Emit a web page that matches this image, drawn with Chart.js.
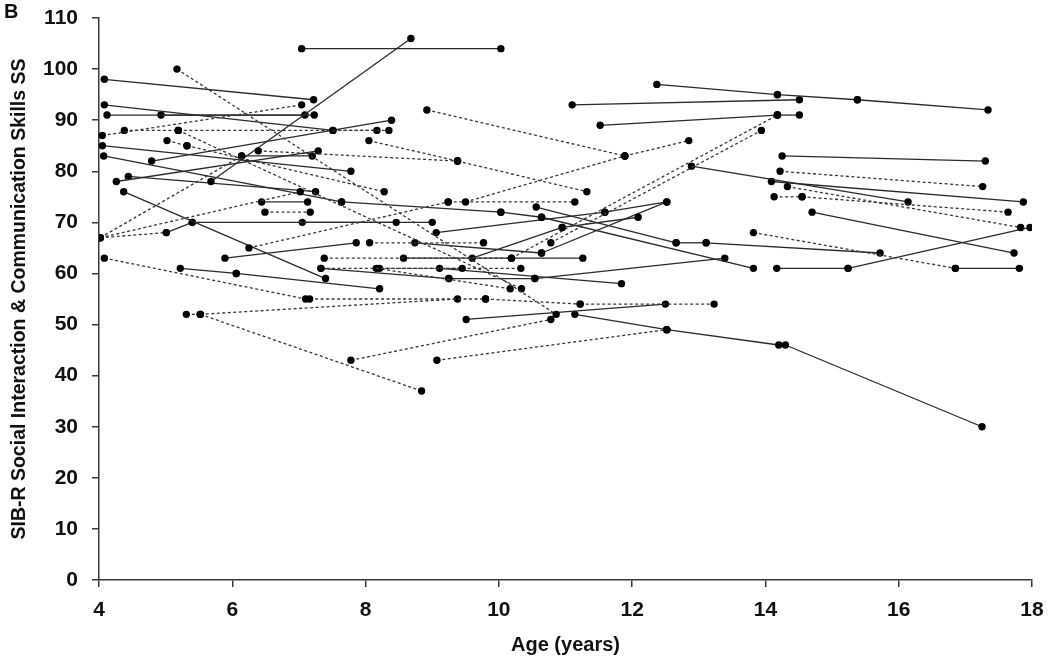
<!DOCTYPE html>
<html>
<head>
<meta charset="utf-8">
<script src="https://cdn.jsdelivr.net/npm/chart.js@4/dist/chart.umd.min.js"></script>
<style>
  html, body { margin: 0; padding: 0; background: #fff; }
  #wrap { position: relative; width: 1050px; height: 661px; }
  #panel { position: absolute; left: 4px; top: 0px; font: bold 20px "Liberation Sans", Arial, sans-serif; color: #111; }
</style>
</head>
<body>
<div id="wrap">
  <canvas id="c" width="1050" height="661"></canvas>
  <div id="panel">B</div>
</div>
<script>
// Axis ticks
const xTickValues = [4, 6, 8, 10, 12, 14, 16, 18];
const yTickValues = [0, 10, 20, 30, 40, 50, 60, 70, 80, 90, 100, 110];

// Each segment: [age start, SS start, age end, SS end]
const solidSegments = [
  [7.04, 104, 10.03, 104],
  [5.68, 78, 8.68, 106],
  [4.08, 98, 7.22, 94],
  [4.08, 93, 7.51, 88],
  [4.12, 91, 7.23, 91],
  [4.93, 91, 7.09, 91],
  [4.05, 85, 7.78, 80],
  [4.79, 82, 8.39, 90],
  [4.07, 83, 7.64, 74],
  [7.64, 74, 10.03, 72],
  [10.03, 72, 10.64, 71],
  [4.26, 78, 7.29, 84],
  [4.44, 79, 7.25, 76],
  [4.37, 76, 7.40, 59],
  [5.01, 68, 5.40, 70],
  [5.40, 70, 8.46, 70],
  [7.05, 70, 9.00, 70],
  [5.89, 63, 7.86, 66],
  [5.22, 61, 6.06, 60],
  [6.06, 60, 8.21, 57],
  [6.14, 83, 7.20, 83],
  [6.44, 74, 7.13, 74],
  [8.57, 63, 11.26, 63],
  [9.60, 63, 10.95, 69],
  [10.95, 69, 12.09, 71],
  [9.06, 68, 11.59, 72],
  [11.59, 72, 12.52, 74],
  [10.64, 64, 12.52, 74],
  [8.74, 66, 10.64, 64],
  [10.56, 73, 12.66, 66],
  [12.66, 66, 13.11, 66],
  [13.11, 66, 15.72, 64],
  [10.64, 71, 13.82, 61],
  [7.33, 61, 9.25, 59],
  [9.25, 59, 10.54, 59],
  [10.54, 59, 13.39, 63],
  [9.11, 61, 11.84, 58],
  [9.51, 51, 12.50, 54],
  [11.14, 52, 12.52, 49],
  [12.52, 49, 14.20, 46],
  [14.30, 46, 17.25, 30],
  [12.37, 97, 14.18, 95],
  [14.18, 95, 15.38, 94],
  [15.38, 94, 17.34, 92],
  [11.10, 93, 14.51, 94],
  [11.52, 89, 14.18, 91],
  [14.18, 91, 14.51, 91],
  [12.89, 81, 16.14, 74],
  [14.09, 78, 17.87, 74],
  [14.25, 83, 17.30, 82],
  [14.70, 72, 17.73, 64],
  [14.17, 61, 15.24, 61],
  [15.24, 61, 17.97, 69],
  [16.85, 61, 17.81, 61]
];

const dashedSegments = [
  [5.17, 100, 10.86, 52],
  [5.19, 88, 10.34, 57],
  [4.05, 87, 7.04, 93],
  [4.38, 88, 5.19, 88],
  [5.19, 88, 8.35, 88],
  [7.51, 88, 8.17, 88],
  [5.02, 86, 5.32, 85],
  [5.32, 85, 8.28, 76],
  [6.39, 84, 9.38, 82],
  [8.05, 86, 9.38, 82],
  [9.38, 82, 11.32, 76],
  [8.92, 92, 11.89, 83],
  [11.89, 83, 12.85, 86],
  [9.50, 74, 11.89, 83],
  [9.24, 74, 11.14, 74],
  [4.02, 67, 6.14, 83],
  [4.02, 67, 7.02, 76],
  [4.02, 67, 5.01, 68],
  [6.25, 65, 9.24, 74],
  [6.49, 72, 7.17, 72],
  [4.08, 63, 7.10, 55],
  [7.16, 55, 9.80, 55],
  [5.31, 52, 5.52, 52],
  [5.52, 52, 8.84, 37],
  [5.52, 52, 9.38, 55],
  [9.80, 55, 11.22, 54],
  [11.22, 54, 13.23, 54],
  [7.78, 43, 10.78, 51],
  [9.07, 43, 12.52, 49],
  [7.38, 63, 10.19, 63],
  [8.06, 66, 9.77, 66],
  [7.33, 61, 9.45, 61],
  [8.21, 61, 10.33, 61],
  [8.16, 61, 10.17, 57],
  [10.19, 63, 14.18, 91],
  [10.78, 66, 13.94, 88],
  [14.22, 80, 17.26, 77],
  [14.33, 77, 17.83, 69],
  [14.55, 75, 17.64, 72],
  [14.13, 75, 14.55, 75],
  [13.82, 68, 16.85, 61]
];

function toDataset(seg, dashed) {
  return {
    data: [{ x: seg[0], y: seg[1] }, { x: seg[2], y: seg[3] }],
    showLine: true,
    borderColor: dashed ? '#383838' : '#2a2a2a',
    borderWidth: 1.3,
    borderDash: dashed ? [3, 2.5] : [],
    pointRadius: 3.7,
    pointHoverRadius: 3.7,
    pointBackgroundColor: '#000',
    pointBorderColor: '#000',
    pointBorderWidth: 0,
    fill: false
  };
}

const datasets = [];
dashedSegments.forEach(s => datasets.push(toDataset(s, true)));
solidSegments.forEach(s => datasets.push(toDataset(s, false)));

const fontFamily = '"Liberation Sans", Arial, sans-serif';

new Chart(document.getElementById('c'), {
  type: 'scatter',
  data: { datasets },
  options: {
    responsive: false,
    animation: false,
    events: [],
    layout: { padding: { left: 0, top: 18, right: 18, bottom: 0 } },
    plugins: { legend: { display: false }, tooltip: { enabled: false } },
    scales: {
      x: {
        type: 'linear',
        min: 4, max: 18,
        afterBuildTicks: s => { s.ticks = xTickValues.map(v => ({ value: v })); },
        afterFit: s => { s.height = 81; s.paddingLeft = 0; s.paddingRight = 0; },
        border: { display: true, color: '#3a3a3a', width: 1.5 },
        grid: { display: true, drawOnChartArea: false, drawTicks: true, tickLength: 7, color: '#3a3a3a', lineWidth: 1.5 },
        ticks: { color: '#111', padding: 11, font: { family: fontFamily, size: 21, weight: 'bold' } },
        title: { display: true, text: 'Age (years)', color: '#111', padding: { top: 2, bottom: 4 }, font: { family: fontFamily, size: 20, weight: 'bold' } }
      },
      y: {
        type: 'linear',
        min: 0, max: 110,
        afterBuildTicks: s => { s.ticks = yTickValues.map(v => ({ value: v })); },
        afterFit: s => { s.width = 99; s.paddingTop = 0; s.paddingBottom = 0; },
        border: { display: true, color: '#3a3a3a', width: 1.5 },
        grid: { display: true, drawOnChartArea: false, drawTicks: true, tickLength: 7, color: '#3a3a3a', lineWidth: 1.5 },
        ticks: { color: '#111', padding: 14, font: { family: fontFamily, size: 21, weight: 'bold' } },
        title: { display: true, text: 'SIB-R Social Interaction & Communication Skills SS', color: '#111', padding: { top: 8, bottom: 4 }, font: { family: fontFamily, size: 19.5, weight: 'bold' } }
      }
    }
  }
});
</script>
</body>
</html>
